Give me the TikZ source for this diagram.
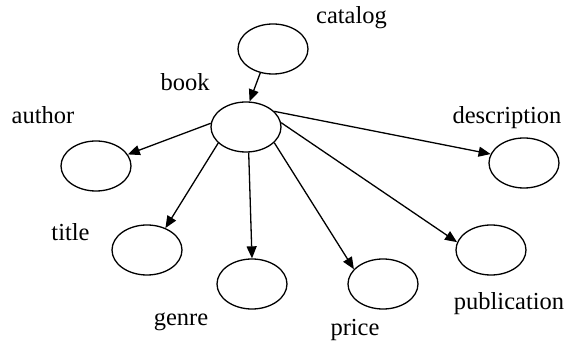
\documentclass[tikz,border=0pt]{standalone}
\usepackage{fontspec}
\setmainfont{Liberation Serif}
\usetikzlibrary{shapes.geometric,arrows.meta}

\begin{document}
\begin{tikzpicture}[x=1pt,y=-1pt,
        elem/.style={draw,ellipse,line width=1.3pt,minimum width=70pt,minimum height=50pt,inner sep=0pt},
        lbl/.style={inner sep=0pt,font=\fontsize{24.5}{29}\selectfont},
        rel/.style={line width=1.3pt,-{Triangle[length=12pt,width=10pt]}}]
                      \useasboundingbox (0,0) rectangle (567,344);
                      % the elements
                      \node[elem] (catalog) at (273,49) {};
                      \node[elem] (book) at (246,127) {};
                      \node[elem] (author) at (96,166) {};
                      \node[elem] (title) at (147,250) {};
                      \node[elem] (genre) at (252,284) {};
                      \node[elem] (price) at (383,284) {};
                      \node[elem] (publication) at (491,250) {};
                      \node[elem] (description) at (524,163) {};
                      % their names
                      \node[lbl] (catalog-lbl) at (351.5,18) {catalog};
                      \node[lbl] (book-lbl) at (185,82.5) {book};
                      \node[lbl] (author-lbl) at (43,115) {author};
                      \node[lbl] (title-lbl) at (70.5,232) {title};
                      \node[lbl] (genre-lbl) at (181,322) {genre};
                      \node[lbl] (price-lbl) at (355,330) {price};
                      \node[lbl] (publication-lbl) at (509,304) {publication};
                      \node[lbl] (description-lbl) at (507,118) {description};
                      % the arrows
                      \draw[rel] (catalog.242) -- (book.82);
                      \draw[rel] (book.174) -- (author.20);
                      \draw[rel] (book.210) -- (title.50);
                      \draw[rel] (book.276) -- (genre.north);
                      \draw[rel] (book.331) -- (price.153);
                      \draw[rel] (book.7) -- (publication.167);
                      \draw[rel] (book.29) -- (description.165);
                  \end{tikzpicture}
\end{document}
